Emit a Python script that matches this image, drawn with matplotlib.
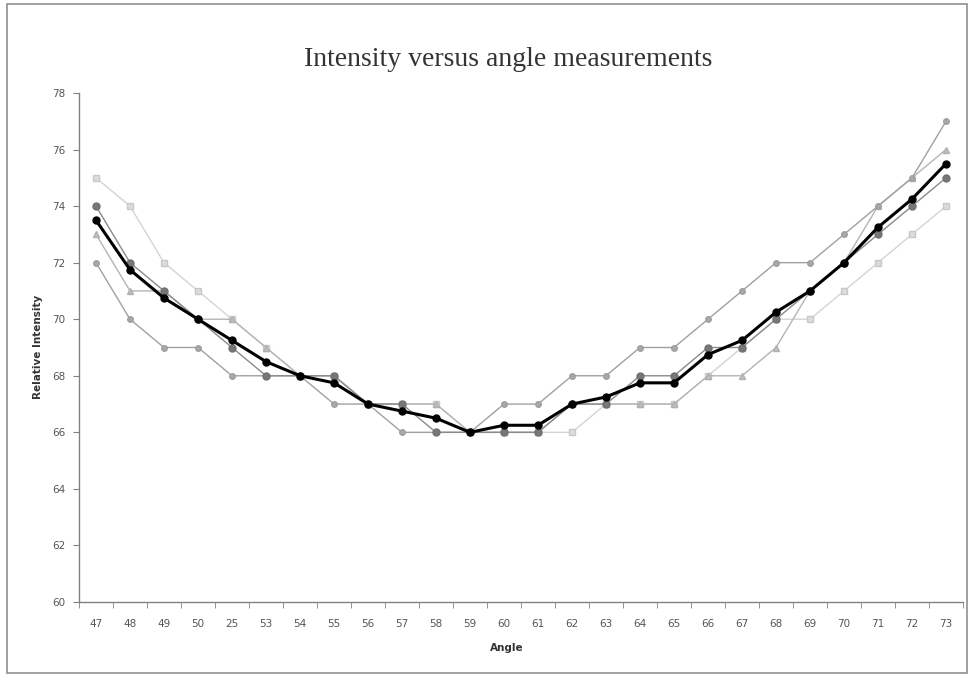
import matplotlib
matplotlib.use("Agg")
import matplotlib.pyplot as plt
from matplotlib.patches import Rectangle

angles = ["47", "48", "49", "50", "25", "53", "54", "55", "56", "57", "58", "59", "60",
          "61", "62", "63", "64", "65", "66", "67", "68", "69", "70", "71", "72", "73"]

series_a = [74, 72, 71, 70, 69, 68, 68, 68, 67, 67, 66, 66, 66, 66, 67, 67, 68, 68, 69, 69, 70, 71, 72, 73, 74, 75]
series_b = [75, 74, 72, 71, 70, 69, 68, 68, 67, 67, 67, 66, 66, 66, 66, 67, 67, 67, 68, 69, 70, 70, 71, 72, 73, 74]
series_c = [73, 71, 71, 70, 70, 69, 68, 68, 67, 67, 67, 66, 66, 66, 67, 67, 67, 67, 68, 68, 69, 71, 72, 74, 75, 76]
series_d = [72, 70, 69, 69, 68, 68, 68, 67, 67, 66, 66, 66, 67, 67, 68, 68, 69, 69, 70, 71, 72, 72, 73, 74, 75, 77]
mean_vals = [73.5, 71.75, 70.75, 70, 69.25, 68.5, 68, 67.75, 67, 66.75, 66.5, 66, 66.25, 66.25,
             67, 67.25, 67.75, 67.75, 68.75, 69.25, 70.25, 71, 72, 73.25, 74.25, 75.5]

y_ticks = [60, 62, 64, 66, 68, 70, 72, 74, 76, 78]

W, H = 975, 677
fig = plt.figure(figsize=(W / 100, H / 100), dpi=100)
fig.patch.set_facecolor("white")

# chart border
fig.patches.append(Rectangle((7 / W, 4 / H), (967 - 7) / W, (673 - 4) / H,
                             transform=fig.transFigure, fill=False,
                             edgecolor="#909090", linewidth=1.2))

left, right, top, bottom = 79, 963, 93, 602
ax = fig.add_axes([left / W, 1 - bottom / H, (right - left) / W, (bottom - top) / H])

x = list(range(len(angles)))

ax.plot(x, series_b, color="#d4d4d4", lw=1.0, marker="s", ms=4.5,
        mfc="#dcdcdc", mec="#c8c8c8", zorder=2)
ax.plot(x, series_c, color="#b4b4b4", lw=1.0, marker="^", ms=4.5,
        mfc="#c0c0c0", mec="#b0b0b0", zorder=2)
ax.plot(x, series_d, color="#a0a0a0", lw=1.0, marker="o", ms=4.0,
        mfc="#a8a8a8", mec="#a0a0a0", zorder=2)
ax.plot(x, series_a, color="#8a8a8a", lw=1.0, marker="o", ms=5.0,
        mfc="#777777", mec="#707070", zorder=3)
ax.plot(x, mean_vals, color="black", lw=2.2, marker="o", ms=5.0,
        mfc="black", mec="black", zorder=4)

ax.set_xlim(-0.5, len(angles) - 0.5)
ax.set_ylim(60, 78)
ax.set_yticks(y_ticks)
ax.set_yticklabels([str(v) for v in y_ticks])
ax.set_xticks(x)
ax.set_xticklabels(angles)
ax.set_xticks([i - 0.5 for i in range(len(angles) + 1)], minor=True)
ax.tick_params(axis="x", which="major", length=0, pad=12, labelsize=7.5, labelcolor="#555555")
ax.tick_params(axis="x", which="minor", length=4, color="#808080", direction="out")
ax.tick_params(axis="y", which="major", length=4, color="#808080", direction="out",
               labelsize=7.5, labelcolor="#555555", pad=6)

for s in ["top", "right"]:
    ax.spines[s].set_visible(False)
for s in ["left", "bottom"]:
    ax.spines[s].set_color("#808080")
    ax.spines[s].set_linewidth(1.0)

fig.text(508 / W, 1 - 60 / H, "Intensity versus angle measurements",
         family="Liberation Serif", fontsize=20, color="#333333",
         ha="center", va="center")
fig.text(507 / W, 1 - 648 / H, "Angle", fontsize=7.5, fontweight="bold",
         color="#333333", ha="center", va="center")
fig.text(38 / W, 1 - 347 / H, "Relative Intensity", fontsize=7.5, fontweight="bold",
         color="#333333", ha="center", va="center", rotation=90)

fig.savefig("out.png", dpi=100, facecolor="white")
